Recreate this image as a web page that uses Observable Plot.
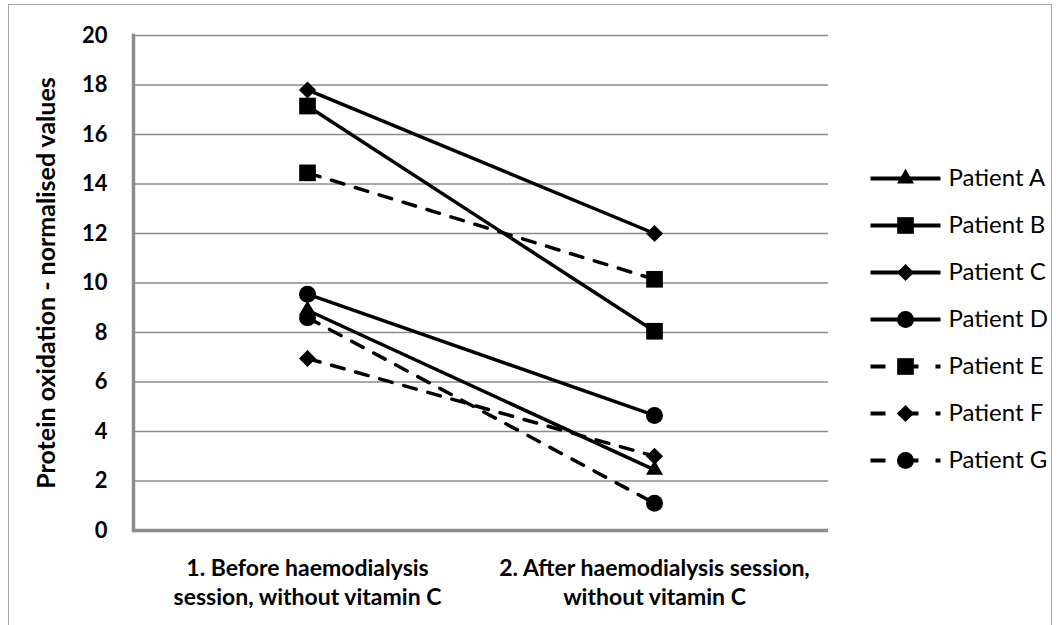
<!DOCTYPE html>
<html>
<head>
<meta charset="utf-8">
<script src="https://cdn.jsdelivr.net/npm/d3@7"></script>
<script src="https://cdn.jsdelivr.net/npm/@observablehq/plot@0.6"></script>
<style>
  html, body { margin: 0; padding: 0; background: #fff; }
  #chart { position: relative; width: 1063px; height: 625px; overflow: hidden; font-family: Lato, "Open Sans", sans-serif; }
  #frame { position: absolute; left: 8px; top: 4px; width: 1044px; height: 640px; border: 1.5px solid #a6a6a6; box-sizing: border-box; }
  #main, #legend { position: absolute; left: 0; top: 0; }
  #legend { left: 860px; }
</style>
</head>
<body>
<div id="chart"><div id="frame"></div><div id="main"></div><div id="legend"></div></div>
<script>
// ---- data ----
const categories = [
  "1. Before haemodialysis\nsession, without vitamin C",
  "2. After haemodialysis session,\nwithout vitamin C"
];
const patients = ["Patient A", "Patient B", "Patient C", "Patient D", "Patient E", "Patient F", "Patient G"];
const beforeValues = [8.9, 17.15, 17.8, 9.55, 14.45, 6.95, 8.6];
const afterValues  = [2.45, 8.05, 12.0, 4.65, 10.15, 3.0, 1.1];
const markers = ["triangle", "square", "diamond2", "circle", "square", "diamond2", "circle"];
const dashedSeries = ["Patient E", "Patient F", "Patient G"];
const yTicks = [0, 2, 4, 6, 8, 10, 12, 14, 16, 18, 20];
const yLabel = "Protein oxidation - normalised values";

// ---- build table ----
const rows = [];
patients.forEach((p, i) => {
  rows.push({patient: p, category: categories[0], value: beforeValues[i], marker: markers[i]});
  rows.push({patient: p, category: categories[1], value: afterValues[i], marker: markers[i]});
});
const legendRows = patients.map((p, i) => ({patient: p, marker: markers[i]}));
const markerR = {triangle: 6.3, square: 9.4, diamond2: 7.7, circle: 8.5};
const isDashed = d => dashedSeries.includes(d.patient);
const symbolKinds = ["triangle", "square", "diamond2", "circle"];
const GRID = "#8c8c8c";
const FONT = "Lato, 'Open Sans', sans-serif";

const main = Plot.plot({
  width: 1063,
  height: 625,
  marginLeft: 133,
  marginRight: 235,
  marginTop: 35,
  marginBottom: 95,
  style: {fontFamily: FONT, color: "#000", background: "transparent"},
  x: {type: "point", domain: categories, padding: 0.5, label: null},
  y: {domain: [0, 20], label: null},
  marks: [
    Plot.gridY(yTicks, {stroke: GRID, strokeOpacity: 1, strokeWidth: 1.6}),
    Plot.ruleY([0], {stroke: GRID, strokeWidth: 3.5}),
    Plot.frame({anchor: "left", stroke: GRID, strokeWidth: 3.5}),
    Plot.axisY(yTicks, {tickSize: 0, tickPadding: 26, fontSize: 22, fontWeight: "bold",
      label: yLabel, labelAnchor: "center", labelArrow: "none", labelOffset: 96}),
    Plot.axisX({tickSize: 0, tickPadding: 25, fontSize: 23, fontWeight: "bold", lineHeight: 1.25, label: null}),
    Plot.line(rows.filter(d => !isDashed(d)), {x: "category", y: "value", z: "patient", stroke: "#000", strokeWidth: 3.5}),
    Plot.line(rows.filter(isDashed), {x: "category", y: "value", z: "patient", stroke: "#000", strokeWidth: 3.5, strokeDasharray: "13,12", strokeLinecap: "round"}),
    ...symbolKinds.map(k => Plot.dot(rows.filter(d => d.marker === k), {x: "category", y: "value", symbol: k, r: markerR[k], fill: "#000", stroke: "none"}))
  ]
});
main.querySelectorAll('[aria-label="y-axis label"] text, [aria-label="y-axis label"]').forEach(t => { t.setAttribute("font-weight", "bold"); t.setAttribute("font-size", 25); });
document.getElementById("main").appendChild(main);

const legend = Plot.plot({
  width: 200,
  height: 625,
  margin: 0,
  style: {fontFamily: FONT, color: "#000", background: "transparent"},
  x: {domain: [0, 1], range: [10, 80], axis: null},
  y: {type: "point", domain: patients, range: [175, 462], padding: 0, axis: null},
  marks: [
    Plot.link(legendRows.filter(d => !isDashed(d)), {x1: () => 0, x2: () => 1, y1: "patient", y2: "patient", stroke: "#000", strokeWidth: 4}),
    Plot.link(legendRows.filter(isDashed), {x1: () => 0, x2: () => 1, y1: "patient", y2: "patient", stroke: "#000", strokeWidth: 4, strokeDasharray: "15,13,20,17,5"}),
    ...symbolKinds.map(k => Plot.dot(legendRows.filter(d => d.marker === k), {x: () => 0.5, y: "patient", symbol: k, r: markerR[k], fill: "#000", stroke: "none"})),
    Plot.text(legendRows, {x: () => 1, y: "patient", text: "patient", textAnchor: "start", dx: 8, fontSize: 24, fill: "#000"})
  ]
});
document.getElementById("legend").appendChild(legend);
</script>
</body>
</html>
